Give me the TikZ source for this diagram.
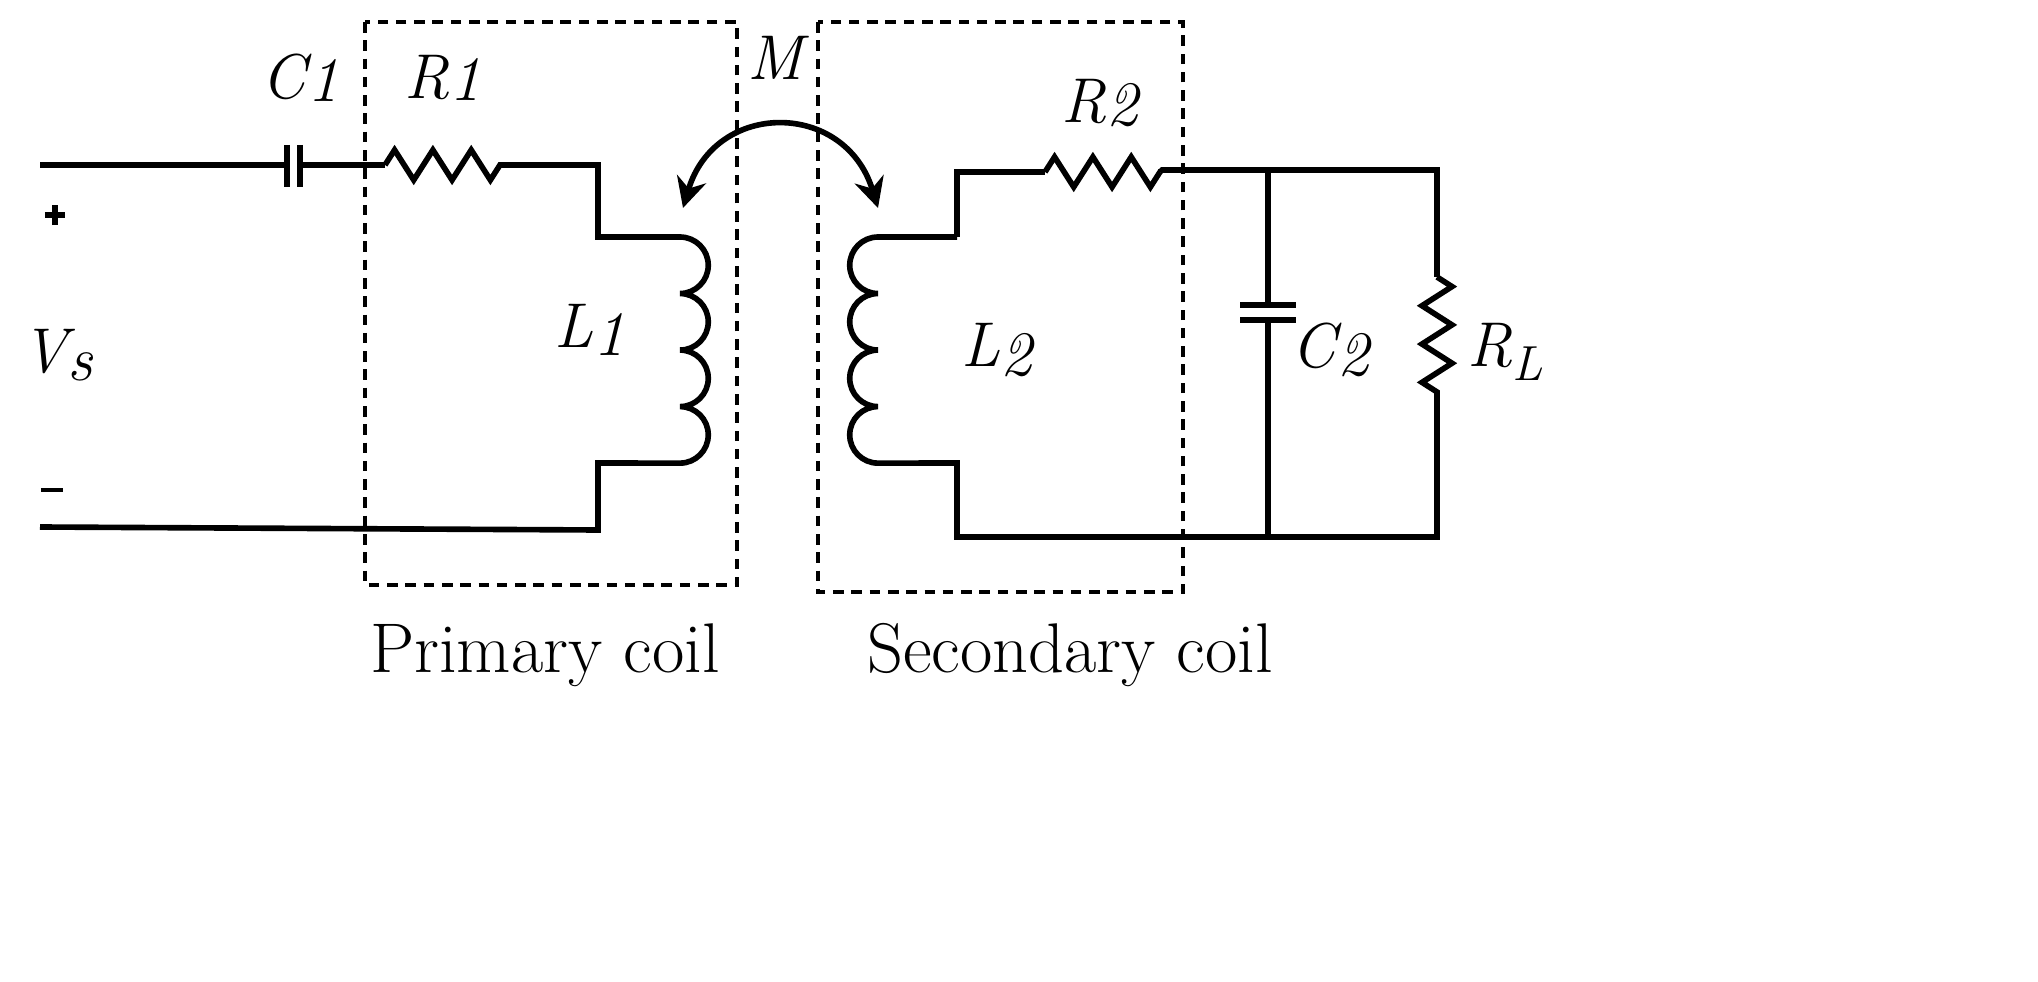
\documentclass[tikz,border=0pt]{standalone}
\usetikzlibrary{decorations.pathmorphing,arrows.meta}
\begin{document}
\begin{tikzpicture}[x=0.01cm,y=0.01cm,
 wire/.style={line width=1.6pt,line join=miter},
 res/.style={wire,decorate,decoration={zigzag,amplitude=0.15cm,segment length=0.383cm}},
 box/.style={line width=1.3pt,dash pattern=on 3pt off 2.2pt},
 lab/.style={font=\fontsize{18}{20}\selectfont\itshape},
 captxt/.style={font=\fontsize{20}{24}\selectfont}]
\useasboundingbox (0,0) rectangle (2038,-982);
% coordinates
\coordinate (tl) at (40,-165); \coordinate (c1a) at (287,-165); \coordinate (c1b) at (300,-165);
\coordinate (r1a) at (385,-165); \coordinate (r1b) at (500,-165); \coordinate (p1) at (598,-165);
\coordinate (p2) at (598,-237); \coordinate (l1t) at (680,-237); \coordinate (l1b) at (680,-463);
\coordinate (p3) at (598,-463); \coordinate (p4) at (598,-530); \coordinate (bl) at (40,-527);
% primary
\draw[wire] (tl) -- (c1a); \draw[wire] (c1b) -- (r1a);
\draw[wire] (287,-145) -- (287,-187); \draw[wire] (300,-145) -- (300,-187);
\draw[res] (r1a) -- (r1b);
\draw[wire] (r1b) -- (p1) -- (p2) -- (l1t)
  arc[start angle=90,end angle=-90,radius=0.2825cm]
  arc[start angle=90,end angle=-90,radius=0.2825cm]
  arc[start angle=90,end angle=-90,radius=0.2825cm]
  arc[start angle=90,end angle=-90,radius=0.2825cm] -- (p3) -- (p4) -- (bl);
% secondary
\coordinate (l2t) at (878,-237); \coordinate (s1) at (957,-237); \coordinate (s2) at (957,-172);
\coordinate (r2a) at (1045,-172); \coordinate (r2b) at (1160,-172); \coordinate (tr) at (1437,-170);
\coordinate (rla) at (1437,-277); \coordinate (rlb) at (1437,-395); \coordinate (br) at (1437,-537);
\coordinate (s3) at (957,-463); \coordinate (s4) at (957,-537);
\coordinate (c2t) at (1268,-170); \coordinate (c2b) at (1268,-537);
\draw[wire] (s1) -- (l2t)
  arc[start angle=90,end angle=270,radius=0.2825cm]
  arc[start angle=90,end angle=270,radius=0.2825cm]
  arc[start angle=90,end angle=270,radius=0.2825cm]
  arc[start angle=90,end angle=270,radius=0.2825cm] -- (s3) -- (s4) -- (br) -- (rlb);
\draw[wire] (s1) -- (s2) -- (r2a);
\draw[res] (r2a) -- (r2b);
\draw[wire] (r2b) -- (1162,-170) -- (tr) -- (rla);
\draw[res] (rla) -- (rlb);
\draw[wire] (c2t) -- (1268,-305); \draw[wire] (1268,-320) -- (c2b);
\draw[wire] (1240,-305) -- (1296,-305); \draw[wire] (1240,-320) -- (1296,-320);
% boxes
\draw[box] (365,-22) rectangle (737,-585);
\draw[box] (818,-22) rectangle (1183,-592);
% M arrow
\draw[wire,{Stealth[length=0.3cm,width=0.3cm]}-{Stealth[length=0.3cm,width=0.3cm]}] (683,-208) .. controls (715,-100) and (845,-100) .. (878,-208);
% labels
\node[lab] (lc1) at (300,-78) {C\kern0.5pt\raisebox{-0.1ex}{1}};
\node[lab] (lr1) at (443,-78) {R\raisebox{-0.1ex}{1}};
\node[lab] (lm) at (775,-58) {M};
\node[lab] (lr2) at (1100,-103) {R\raisebox{-0.1ex}{2}};
\node[lab] (ll1) at (590,-330) {L\raisebox{-0.3ex}{1}};
\node[lab] (ll2) at (997,-350) {L\raisebox{-0.3ex}{2}};
\node[lab] (lc2) at (1330,-350) {C\kern0.5pt\raisebox{-0.3ex}{2}};
\node[lab] (lrl) at (1505,-352) {R\raisebox{-0.5ex}{\fontsize{14}{16}\selectfont L}};
\node[lab] (lvs) at (57,-355) {V\raisebox{-0.3ex}{s}};
\node (plus) at (55,-215) {\tikz\draw[line width=1.6pt] (-0.1cm,0)--(0.1cm,0) (0,-0.1cm)--(0,0.1cm);};
\node (minus) at (52,-490) {\tikz\draw[line width=1.3pt] (-0.11cm,0)--(0.11cm,0);};
\node[captxt] (t1) at (545,-655) {Primary coil};
\node[captxt] (t2) at (1070,-655) {Secondary coil};
\end{tikzpicture}
\end{document}
